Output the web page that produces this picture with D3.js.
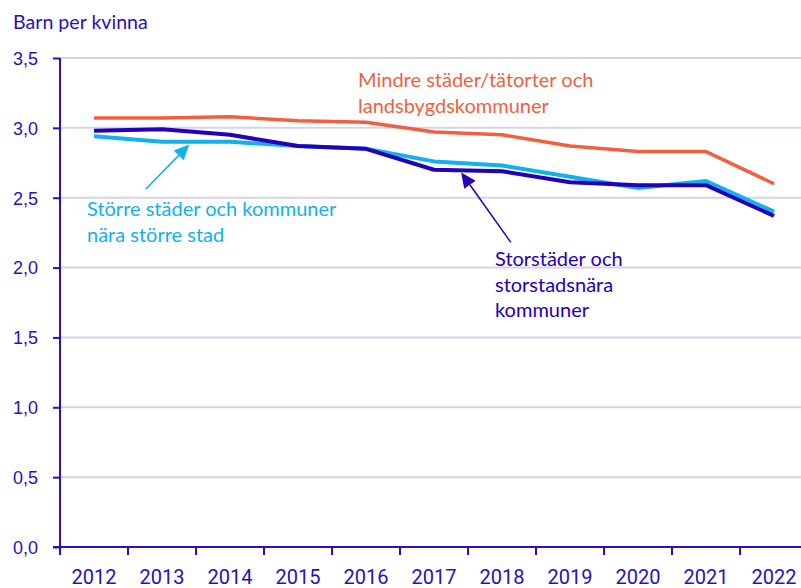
<!DOCTYPE html>
<html>
<head>
<meta charset="utf-8">
<script src="https://cdn.jsdelivr.net/npm/d3@7"></script>
<style>
 body { margin: 0; background: #fff; }
 svg { display: block; }
</style>
</head>
<body>
<svg></svg>
<script>
// размеры
const width = 801;
const height = 588;

// данные
const years = [2012, 2013, 2014, 2015, 2016, 2017, 2018, 2019, 2020, 2021, 2022];
const mindre = [3.07, 3.07, 3.08, 3.05, 3.04, 2.97, 2.95, 2.87, 2.83, 2.83, 2.60];
const storstad = [2.98, 2.99, 2.95, 2.87, 2.85, 2.70, 2.69, 2.61, 2.59, 2.59, 2.37];
const storre = [2.94, 2.90, 2.90, 2.87, 2.85, 2.76, 2.73, 2.65, 2.57, 2.62, 2.40];
const yTicks = [0, 0.5, 1, 1.5, 2, 2.5, 3, 3.5];

const cAxis = "#2a0fc4";
const cOrange = "#f25f3f";
const cDark = "#2400b8";
const cLight = "#12b1ea";

let svg = d3.select("svg")
 .attr("width", width)
 .attr("height", height);

// шкалы
let x = d3.scaleBand()
 .domain(years)
 .range([60, 808])
 .padding(0);
let y = d3.scaleLinear()
 .domain([0, 3.5])
 .range([547, 58]);

// позиция по дробному году (для стрелок)
let xAt = (t) => x(years[0]) + x.bandwidth() * (t - years[0] + 0.5);

// сетка
svg.append("g")
 .selectAll("line")
 .data(yTicks.filter(d => d > 0))
 .join("line")
 .attr("x1", 60).attr("x2", width)
 .attr("y1", d => y(d)).attr("y2", d => y(d))
 .style("stroke", "#d3d3ec")
 .style("stroke-width", 2);

// ось Y
let yAxis = svg.append("g")
 .attr("transform", "translate(60,0)")
 .call(d3.axisLeft(y)
   .tickValues(yTicks)
   .tickSize(7)
   .tickPadding(15)
   .tickFormat(d => d3.format(".1f")(d).replace(".", ",")));
yAxis.select(".domain").remove();
yAxis.selectAll(".tick line").style("stroke", cAxis).style("stroke-width", 2);
yAxis.selectAll("text")
 .style("fill", cAxis)
 .style("font-family", "'Liberation Sans', Arial, sans-serif")
 .style("font-size", "18px")
 .attr("dy", "0.35em");
svg.append("line")
 .attr("x1", 60).attr("x2", 60)
 .attr("y1", y(3.5)).attr("y2", y(0))
 .style("stroke", cAxis).style("stroke-width", 2);

// ось X
svg.append("line")
 .attr("x1", 53).attr("x2", width)
 .attr("y1", y(0)).attr("y2", y(0))
 .style("stroke", cAxis).style("stroke-width", 2);
svg.append("g")
 .selectAll("line")
 .data(years)
 .join("line")
 .attr("x1", d => x(d)).attr("x2", d => x(d))
 .attr("y1", y(0)).attr("y2", y(0) + 8)
 .style("stroke", cAxis).style("stroke-width", 2);
svg.append("g")
 .selectAll("text")
 .data(years)
 .join("text")
 .attr("x", d => x(d) + x.bandwidth() / 2)
 .attr("y", 584)
 .attr("text-anchor", "middle")
 .style("fill", cAxis)
 .style("font-family", "Roboto, sans-serif")
 .style("font-size", "20px")
 .text(d => d);

// подпись оси
svg.append("text")
 .attr("x", 13).attr("y", 29)
 .style("fill", cAxis)
 .style("font-family", "Lato, sans-serif")
 .style("font-size", "19.6px")
 .text("Barn per kvinna");

// линии
let line = d3.line()
 .x((d, i) => x(years[i]) + x.bandwidth() / 2)
 .y(d => y(d));

[[mindre, cOrange, 3.5], [storre, cLight, 4], [storstad, cDark, 4]].forEach(([vals, col, w]) => {
 svg.append("path")
  .attr("d", line(vals))
  .style("fill", "none")
  .style("stroke", col)
  .style("stroke-width", w)
  .style("stroke-linejoin", "round");
});

// стрелки
function arrow(x1, y1, x2, y2, col) {
 const a = Math.atan2(y2 - y1, x2 - x1);
 const len = 15, half = 7;
 const bx = x2 - len * Math.cos(a), by = y2 - len * Math.sin(a);
 svg.append("line")
  .attr("x1", x1).attr("y1", y1).attr("x2", bx).attr("y2", by)
  .style("stroke", col).style("stroke-width", 1.5);
 const p = [
  [x2, y2],
  [bx + half * Math.sin(a), by - half * Math.cos(a)],
  [bx - half * Math.sin(a), by + half * Math.cos(a)]
 ];
 svg.append("path")
  .attr("d", "M" + p.map(q => q.join(",")).join("L") + "Z")
  .style("fill", col);
}
arrow(xAt(2012.76), y(2.56), xAt(2013.4), y(2.88), cLight);
arrow(xAt(2018.13), y(2.18), xAt(2017.4), y(2.68), cDark);

// подписи серий
function label(lines, px, py, col) {
 let t = svg.append("text")
  .style("fill", col)
  .style("font-family", "Lato, sans-serif")
  .style("font-size", "20px");
 lines.forEach((s, i) => {
  t.append("tspan").attr("x", px).attr("y", py + i * 25.5).text(s);
 });
}
label(["Mindre städer/tätorter och", "landsbygdskommuner"], 358, 87, cOrange);
label(["Större städer och kommuner", "nära större stad"], 87, 216, cLight);
label(["Storstäder och", "storstadsnära", "kommuner"], 495, 266, cDark);
</script>
</body>
</html>
